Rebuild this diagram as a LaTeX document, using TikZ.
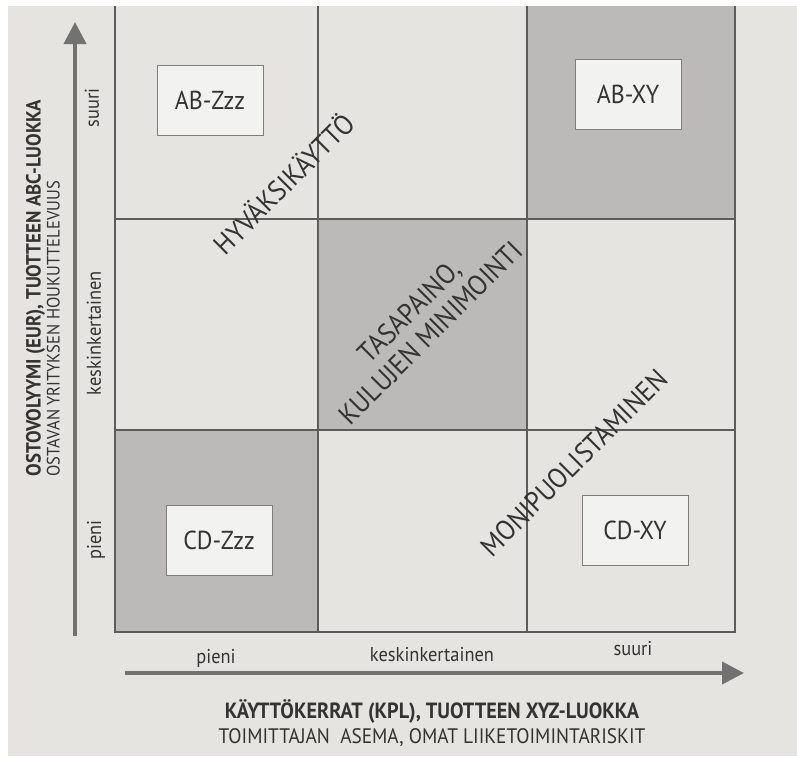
\documentclass[tikz,border=0pt]{standalone}
\usepackage{fontspec}
\setmainfont{PT Sans}[FakeStretch=0.92]
\usetikzlibrary{arrows.meta}
\definecolor{page}{HTML}{E6E4E1}
\definecolor{cell}{HTML}{BBBAB8}
\definecolor{ink}{HTML}{333333}
\definecolor{rule}{HTML}{5C5C5C}
\definecolor{axis}{HTML}{727272}
\begin{document}
\begin{tikzpicture}[x=1pt, y=-1pt,
	box/.style={draw=rule!80, fill=page!50!white, inner sep=0pt, minimum width=106, minimum height=70, text=ink, font=\fontsize{26}{28}\selectfont},
	diag/.style={rotate=45, text=ink, align=center, font=\fontsize{28}{30}\selectfont},
	tick/.style={text=ink, font=\fontsize{20}{22}\selectfont},
	axisline/.style={axis, line width=4, -{Triangle[length=22, width=22]}}]
	\useasboundingbox (0,0) rectangle (797,756);
	\fill[white] (0,0) rectangle (797,756);
	\fill[page] (8,6) rectangle (797,756);
	% shaded cells
	\fill[cell] (527,6) rectangle (735,219);
	\fill[cell] (318,219) rectangle (527,430);
	\fill[cell] (115,430) rectangle (318,632);
	% grid
	\draw[rule, line width=1.2] (115,6) -- (115,632) -- (735,632) -- (735,6);
	\draw[rule, line width=1.2] (318,6) -- (318,632);
	\draw[rule, line width=1.2] (527,6) -- (527,632);
	\draw[rule, line width=1.2] (115,219) -- (735,219);
	\draw[rule, line width=1.2] (115,430) -- (735,430);
	% boxes
	\node[box] (abzzz) at (210,100) {AB-Zzz};
	\node[box] (abxy) at (628,94) {AB-XY};
	\node[box] (cdzzz) at (219,540) {CD-Zzz};
	\node[box] (cdxy) at (635,530) {CD-XY};
	% strategies
	\node[diag] (hyv) at (283,183) {HYVÄKSIKÄYTTÖ};
	\node[diag] (tasa) at (420,322) {TASAPAINO,\\KULUJEN MINIMOINTI};
	\node[diag] (moni) at (574,463) {MONIPUOLISTAMINEN};
	% axes
	\coordinate (ybot) at (75,636);
	\coordinate (ytop) at (75,22);
	\coordinate (xleft) at (125,673);
	\coordinate (xright) at (744,673);
	\draw[axisline] (ybot) -- (ytop);
	\draw[axisline] (xleft) -- (xright);
	\node[tick, rotate=90] (ysuuri) at (92,108) {suuri};
	\node[tick, rotate=90] (ykeski) at (94,333) {keskinkertainen};
	\node[tick, rotate=90] (ypieni) at (96,540) {pieni};
	\node[tick] (xpieni) at (216,658) {pieni};
	\node[tick] (xkeski) at (432,655) {keskinkertainen};
	\node[tick] (xsuuri) at (633,649) {suuri};
	\node[rotate=90, anchor=west, align=left, text=ink, font=\fontsize{18}{19}\selectfont] (ytitle) at (43,480) {{\fontsize{20.5}{19}\selectfont\bfseries OSTOVOLYYMI (EUR), TUOTTEEN ABC-LUOKKA}\\OSTAVAN YRITYKSEN HOUKUTTELEVUUS};
	\node[align=center, text=ink, font=\fontsize{21}{25}\selectfont] (xtitle) at (432,723) {{\fontsize{22}{25}\selectfont\bfseries KÄYTTÖKERRAT (KPL), TUOTTEEN XYZ-LUOKKA}\\TOIMITTAJAN\ \ ASEMA, OMAT LIIKETOIMINTARISKIT};
\end{tikzpicture}
\end{document}
